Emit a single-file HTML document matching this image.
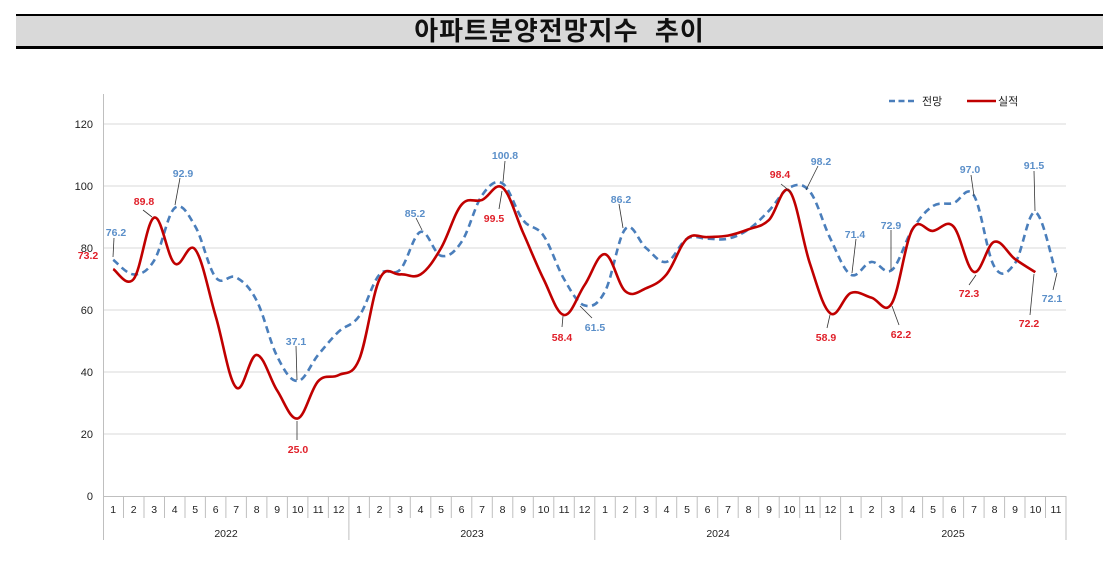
<!DOCTYPE html>
<html><head><meta charset="utf-8">
<style>
html,body{margin:0;padding:0;background:#fff;}
body{width:1119px;height:564px;overflow:hidden;position:relative;font-family:"Liberation Sans","Noto Sans CJK KR",sans-serif;}
.title{position:absolute;left:16px;top:14px;width:1087px;height:30px;background:#d9d9d9;border-top:2px solid #000;border-bottom:3px solid #000;text-align:center;font:bold 26px "Liberation Sans","Noto Sans CJK KR",sans-serif;line-height:30px;color:#111;letter-spacing:1px;}
svg{position:absolute;left:0;top:0;}
</style></head><body>
<div class="title">아파트분양전망지수&nbsp;&nbsp;추이</div>
<svg width="1119" height="564" xmlns="http://www.w3.org/2000/svg" font-family="Liberation Sans, Noto Sans CJK KR, sans-serif">
<g stroke="#d9d9d9" stroke-width="1">
<line x1="103" x2="1066" y1="124" y2="124"/><line x1="103" x2="1066" y1="186" y2="186"/><line x1="103" x2="1066" y1="248" y2="248"/><line x1="103" x2="1066" y1="310" y2="310"/><line x1="103" x2="1066" y1="372" y2="372"/><line x1="103" x2="1066" y1="434" y2="434"/>
</g>
<line x1="103.5" x2="103.5" y1="94" y2="540" stroke="#bfbfbf"/>
<line x1="103" x2="1066" y1="496.5" y2="496.5" stroke="#bfbfbf"/>
<g id="ticks" stroke="#bfbfbf"></g>
<g font-size="11" fill="#222" text-anchor="end">
<text x="93" y="128">120</text><text x="93" y="190">100</text><text x="93" y="252">80</text><text x="93" y="314">60</text><text x="93" y="376">40</text><text x="93" y="438">20</text><text x="93" y="500">0</text>
</g>
<g font-size="10.5" fill="#222" text-anchor="middle">
<text x="113.2" y="513">1</text><text x="133.7" y="513">2</text><text x="154.2" y="513">3</text><text x="174.7" y="513">4</text><text x="195.2" y="513">5</text><text x="215.7" y="513">6</text><text x="236.2" y="513">7</text><text x="256.7" y="513">8</text><text x="277.2" y="513">9</text><text x="297.7" y="513">10</text><text x="318.2" y="513">11</text><text x="338.7" y="513">12</text>
<text x="359.1" y="513">1</text><text x="379.6" y="513">2</text><text x="400.1" y="513">3</text><text x="420.6" y="513">4</text><text x="441.1" y="513">5</text><text x="461.6" y="513">6</text><text x="482.1" y="513">7</text><text x="502.6" y="513">8</text><text x="523.1" y="513">9</text><text x="543.6" y="513">10</text><text x="564.1" y="513">11</text><text x="584.6" y="513">12</text>
<text x="605.0" y="513">1</text><text x="625.5" y="513">2</text><text x="646.0" y="513">3</text><text x="666.5" y="513">4</text><text x="687.0" y="513">5</text><text x="707.5" y="513">6</text><text x="728.0" y="513">7</text><text x="748.5" y="513">8</text><text x="769.0" y="513">9</text><text x="789.5" y="513">10</text><text x="810.0" y="513">11</text><text x="830.5" y="513">12</text>
<text x="851.0" y="513">1</text><text x="871.5" y="513">2</text><text x="892.0" y="513">3</text><text x="912.5" y="513">4</text><text x="933.0" y="513">5</text><text x="953.5" y="513">6</text><text x="974.0" y="513">7</text><text x="994.5" y="513">8</text><text x="1015.0" y="513">9</text><text x="1035.5" y="513">10</text><text x="1056.0" y="513">11</text>
<text x="226" y="537">2022</text><text x="472" y="537">2023</text><text x="718" y="537">2024</text><text x="953" y="537">2025</text>
</g>
<path id="blue" fill="none" stroke="#4a7ebb" stroke-width="2.6" stroke-dasharray="7,4.5"/>
<path id="red" fill="none" stroke="#c00000" stroke-width="2.6"/>
<g stroke="#333" stroke-width="0.8">
<line x1="114" y1="238" x2="113" y2="257"/><line x1="180" y1="178" x2="175" y2="205"/><line x1="296" y1="346" x2="297" y2="380"/><line x1="416" y1="218" x2="422" y2="230"/><line x1="505" y1="161" x2="503" y2="182"/><line x1="580" y1="306" x2="592" y2="318"/><line x1="619" y1="204" x2="623" y2="228"/><line x1="818" y1="166" x2="806" y2="190"/><line x1="856" y1="239" x2="852" y2="273"/><line x1="891" y1="230" x2="891" y2="270"/><line x1="971" y1="175" x2="974" y2="196"/><line x1="1034" y1="171" x2="1035" y2="211"/><line x1="1053" y1="290" x2="1057" y2="273"/>
<line x1="143" y1="210" x2="152" y2="217"/><line x1="297" y1="421" x2="297" y2="440"/><line x1="499" y1="209" x2="502" y2="191"/><line x1="562" y1="327" x2="563" y2="316"/><line x1="781" y1="184" x2="791" y2="192"/><line x1="827" y1="328" x2="830" y2="315"/><line x1="899" y1="325" x2="892" y2="306"/><line x1="969" y1="285" x2="976" y2="275"/><line x1="1030" y1="315" x2="1034" y2="274"/>
</g>
<g font-size="10.5" font-weight="bold" fill="#5b8fc9" text-anchor="middle">
<text x="116" y="236">76.2</text><text x="183" y="177">92.9</text><text x="296" y="345">37.1</text><text x="415" y="217">85.2</text><text x="505" y="159">100.8</text><text x="595" y="331">61.5</text><text x="621" y="203">86.2</text><text x="821" y="165">98.2</text><text x="855" y="238">71.4</text><text x="891" y="229">72.9</text><text x="970" y="173">97.0</text><text x="1034" y="169">91.5</text><text x="1052" y="302">72.1</text>
</g>
<g font-size="10.5" font-weight="bold" fill="#e0202a" text-anchor="middle">
<text x="88" y="259">73.2</text><text x="144" y="205">89.8</text><text x="298" y="453">25.0</text><text x="494" y="222">99.5</text><text x="562" y="341">58.4</text><text x="780" y="178">98.4</text><text x="826" y="341">58.9</text><text x="901" y="338">62.2</text><text x="969" y="297">72.3</text><text x="1029" y="327">72.2</text>
</g>
<line x1="889" y1="101" x2="916" y2="101" stroke="#4a7ebb" stroke-width="2.6" stroke-dasharray="6,3.5"/>
<text x="922" y="105" font-size="11" fill="#222">전망</text>
<line x1="967" y1="101" x2="996" y2="101" stroke="#c00000" stroke-width="2.6"/>
<text x="998" y="105" font-size="11" fill="#222">실적</text>
</svg>
<script>
var x0=103,st=20.49;
function X(i){return x0+st*(i+0.5);}
function Y(v){return 496-3.1*v;}
var b=[76.2,71.5,76,92.9,87,70.5,70.5,63,45,37.1,45.5,53, 58,71.5,73,85.2,77.5,82,97,100.8,89,84,70,61.5, 66,86.2,80,75.5,83,83,83,86,92,99.5,98.2,83, 71.4,75.5,72.9,86,93.5,94.5,97.0,74,75,91.5,72.1];
var r=[73.2,70,89.8,75,79.5,58,35,45.5,34,25.0,37,39, 44,70,71.5,71.5,80,94,95.5,99.5,85,70,58.4,68, 78,66,67,71.5,83,83.5,84,86,89,98.4,75,58.9, 65.5,64,62.2,86,85.5,87,72.3,82,76.5,72.2];
function path(a){var p=a.map(function(v,i){return [X(i),Y(v)];});var d="M"+p[0][0].toFixed(1)+","+p[0][1].toFixed(1);var t=0.18;
for(var i=0;i<p.length-1;i++){var p0=p[i-1]||p[i],p1=p[i],p2=p[i+1],p3=p[i+2]||p2;
var c1=[p1[0]+(p2[0]-p0[0])*t,p1[1]+(p2[1]-p0[1])*t],c2=[p2[0]-(p3[0]-p1[0])*t,p2[1]-(p3[1]-p1[1])*t];
d+=" C"+c1[0].toFixed(1)+","+c1[1].toFixed(1)+" "+c2[0].toFixed(1)+","+c2[1].toFixed(1)+" "+p2[0].toFixed(1)+","+p2[1].toFixed(1);}return d;}
document.getElementById('blue').setAttribute('d',path(b));
document.getElementById('red').setAttribute('d',path(r));
var g=document.getElementById('ticks'),s="";
for(var i=1;i<=47;i++){var x=(x0+st*i).toFixed(1);var yr=(i%12==0||i==47);s+='<line x1="'+x+'" x2="'+x+'" y1="496" y2="'+(yr?540:518)+'"/>';}
g.innerHTML=s;
</script>
</body></html>
